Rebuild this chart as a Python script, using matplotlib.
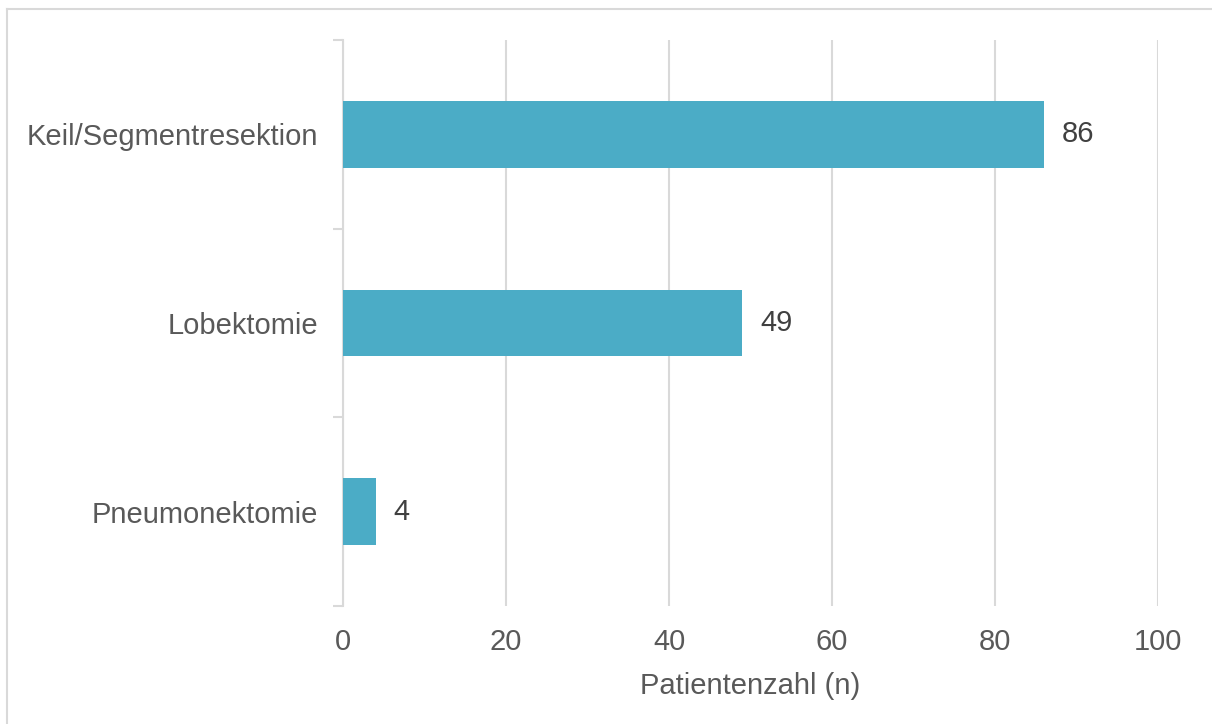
import numpy as np
import matplotlib.pyplot as plt
from matplotlib.lines import Line2D

plt.rcParams['font.family'] = ['Liberation Sans', 'DejaVu Sans']

kategorien = ['Keil/Segmentresektion', 'Lobektomie', 'Pneumonektomie']
patienten = [86, 49, 4]
x_ticks = [0, 20, 40, 60, 80, 100]

bar_color = '#4BACC6'
grid_color = '#d9d9d9'
text_color = '#595959'
fs = 21

fig = plt.figure(figsize=(12.12, 7.24), dpi=100)
ax = fig.add_axes([343 / 1212, 1 - 606 / 724, (1158 - 343) / 1212, (606 - 40) / 724])

# Kategorien von oben nach unten
y = np.arange(len(kategorien))[::-1]
bars = ax.barh(y, patienten, height=0.355, color=bar_color, zorder=3)
ax.bar_label(bars, labels=[str(v) for v in patienten], padding=13,
             fontsize=fs, color='#404040')

ax.set_xlim(0, 100)
ax.set_ylim(-0.5, len(kategorien) - 0.5)
ax.set_xticks(x_ticks)
ax.set_xticklabels([str(t) for t in x_ticks])
ax.set_yticks(y)
ax.set_yticklabels(kategorien)
ax.set_yticks(np.arange(-0.5, len(kategorien)), minor=True)

ax.grid(axis='x', color=grid_color, linewidth=1.5, zorder=0)
ax.tick_params(axis='x', length=0, pad=16, labelsize=fs, labelcolor=text_color)
ax.tick_params(axis='y', which='major', length=0, pad=18, labelsize=fs,
               labelcolor=text_color)
ax.tick_params(axis='y', which='minor', length=7, width=1.5, color=grid_color)

for side in ['top', 'right', 'bottom']:
    ax.spines[side].set_visible(False)
ax.spines['left'].set_color(grid_color)
ax.spines['left'].set_linewidth(1.5)

ax.set_xlabel('Patientenzahl (n)', fontsize=fs, color=text_color, labelpad=11)

# Rahmen oben und links
fig.add_artist(Line2D([7 / 1212, 7 / 1212], [0, 1 - 9 / 724],
                      transform=fig.transFigure, color=grid_color, linewidth=1.5))
fig.add_artist(Line2D([7 / 1212, 1], [1 - 9 / 724, 1 - 9 / 724],
                      transform=fig.transFigure, color=grid_color, linewidth=1.5))

fig.savefig('out.png', dpi=100)
